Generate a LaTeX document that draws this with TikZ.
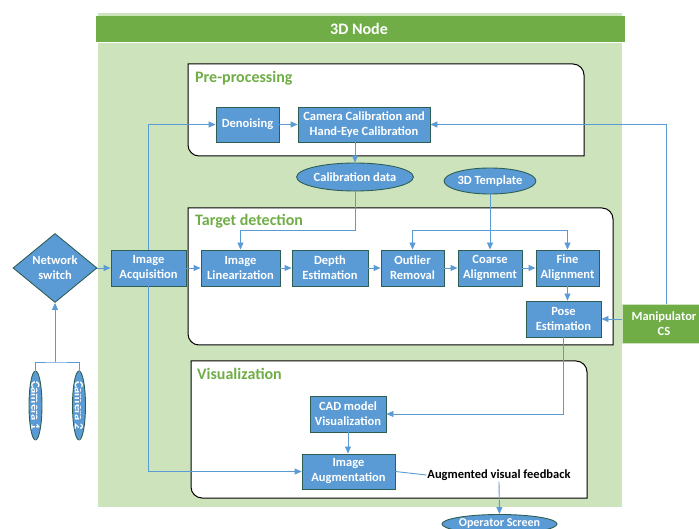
\documentclass[tikz,border=0pt]{standalone}
\usepackage{fontspec}
\setmainfont{Carlito}
\usetikzlibrary{arrows.meta,shapes.geometric,calc}
\definecolor{boxblue}{HTML}{5B9BD5}
\definecolor{boxedge}{HTML}{2E5F55}
\definecolor{lnblue}{HTML}{5B9BD5}
\definecolor{hdrgreen}{HTML}{70AD47}
\definecolor{bggreen}{HTML}{CCE3BC}
\newcommand\ctrbox[5]{%
  \draw[#5] (#1,#2) -- ({#3-11},#2) .. controls ({#3-5},#2) and (#3,{#2+5}) .. (#3,{#2+11})
   -- (#3,#4) -- ({#1+11},#4) .. controls ({#1+5},#4) and (#1,{#4-5}) .. (#1,{#4-11}) -- cycle;}
\tikzset{
  proc/.style={draw=boxedge, fill=boxblue, line width=0.9pt, text=white, font=\fontsize{12.5}{15}\selectfont\bfseries, align=center, inner sep=0pt},
  oval/.style={ellipse, draw=boxedge, fill=boxblue, line width=0.9pt, text=white, font=\fontsize{12.5}{15}\selectfont\bfseries, inner sep=0pt},
  conn/.style={draw=lnblue, line width=0.9pt},
  arr/.style={conn, -{Triangle[length=7pt,width=6pt]}},
  ttl/.style={text=hdrgreen, font=\fontsize{16}{18}\selectfont\bfseries, anchor=west, inner sep=0pt},
}
\begin{document}
\begin{tikzpicture}[x=1pt,y=-1pt]
\useasboundingbox (0,0) rectangle (699,529);
% background
\fill[bggreen] (98,13) rectangle (622,507);
\fill[hdrgreen] (96,16) rectangle (625,42);
\draw[white, line width=1pt] (96,42.5) -- (625,42.5);
\node[text=white, font=\fontsize{16}{18}\selectfont\bfseries] (hdr) at (359,29) {3D Node};
% containers
\ctrbox{188}{64}{584}{156}{draw=black, fill=white, line width=1pt}
\ctrbox{188}{208}{613}{345}{draw=black, fill=white, line width=1pt}
\ctrbox{191}{361}{587}{498}{draw=black, fill=white, line width=1pt}
\node[ttl] (tpre) at (195,78) {Pre-processing};
\node[ttl] (ttd) at (195,221) {Target detection};
\node[ttl] (tvis) at (197,374) {Visualization};
% boxes
\node[proc, minimum width=63pt, minimum height=35pt] (den) at (247.5,124.5) {Denoising};
\node[proc, minimum width=132pt, minimum height=35pt] (cal) at (364,124.5) {Camera Calibration and\\Hand-Eye Calibration};
\node[proc, minimum width=75pt, minimum height=36pt] (acq) at (148.5,268) {Image\\Acquisition};
\node[proc, minimum width=79pt, minimum height=36pt] (lin) at (240.5,268) {Image\\Linearization};
\node[proc, minimum width=76pt, minimum height=36pt] (dep) at (330,268) {Depth\\Estimation};
\node[proc, minimum width=63pt, minimum height=36pt] (out) at (412.5,268) {Outlier\\Removal};
\node[proc, minimum width=64pt, minimum height=36pt] (coa) at (490,268) {Coarse\\Alignment};
\node[proc, minimum width=63pt, minimum height=36pt] (fin) at (567.5,268) {Fine\\Alignment};
\node[proc, minimum width=75pt, minimum height=36pt] (pose) at (563.5,319) {Pose\\Estimation};
\node[proc, minimum width=76pt, minimum height=36pt] (cad) at (348,414) {CAD model\\Visualization};
\node[proc, minimum width=93pt, minimum height=35pt] (aug) at (348.5,471.5) {Image\\Augmentation};
\node[proc, draw=bggreen, fill=hdrgreen, minimum width=88pt, minimum height=39pt] (man) at (666,323.5) {};
\node[text=white, font=\fontsize{12.5}{15}\selectfont\bfseries, align=center, inner sep=0pt] (mant) at (664,323.5) {Manipulator\\CS};
% ellipses
\node[oval, minimum width=106pt, minimum height=28pt] (cd) at (355,177) {Calibration data};
\node[oval, minimum width=84pt, minimum height=26pt] (tmp) at (490,181) {3D Template};
\node[oval, minimum width=115pt, minimum height=19pt, font=\fontsize{12}{14}\selectfont\bfseries] (op) at (499.5,524) {Operator Screen};
\node[diamond, draw=boxedge, fill=boxblue, line width=0.9pt, text=white, font=\fontsize{12.5}{15}\selectfont\bfseries, align=center, minimum width=84pt, minimum height=52pt, inner sep=0pt] (ns) at (55,268) {Network\\switch};
\node[oval, minimum width=67pt, minimum height=13pt, rotate=-90] (c1) at (35.5,405.5) {Camera 1};
\node[oval, minimum width=67pt, minimum height=13pt, rotate=-90] (c2) at (79,405.5) {Camera 2};
\node[font=\fontsize{12.5}{15}\selectfont\bfseries, inner sep=1pt] (fb) at (499,475) {Augmented visual feedback};
% connectors
\coordinate (j1) at (55,362);
\draw[conn] (c1.east) |- (j1) -| (c2.east);
\draw[arr] (j1) -- (ns.south);
\draw[arr] (ns.east) -- (acq.west);
\draw[arr] (acq.north) |- (den.west);
\draw[arr] (acq.south) |- (aug.west);
\draw[arr] (den) -- (cal);
\draw[arr] (cal.south -| cd.north) -- (cd.north);
\draw[arr] (cd.south) |- (240.5,230) -- (lin.north);
\draw[arr] (tmp.south) -- (coa.north);
\draw[arr] (412.5,230) -- (out.north);
\draw[conn] (412.5,230) -- (567.5,230);
\draw[arr] (567.5,230) -- (fin.north);
\draw[arr] (acq) -- (lin);
\draw[arr] (lin) -- (dep);
\draw[arr] (dep) -- (out);
\draw[arr] (out) -- (coa);
\draw[arr] (coa) -- (fin);
\draw[arr] (fin.south) -- (fin.south |- pose.north);
\draw[arr] (man.west |- pose.east) -- (pose.east);
\draw[arr] (man.north) |- (cal.east);
\draw[arr] (pose.south) |- (cad.east);
\draw[arr] (cad) -- (cad.south |- aug.north);
\draw[conn] (aug.east) -- (fb.west);
\draw[arr] (fb.south) -- (op.north);
\end{tikzpicture}
\end{document}
